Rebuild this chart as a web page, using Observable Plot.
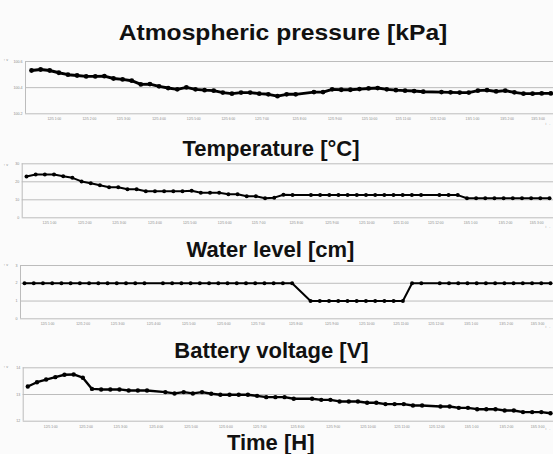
<!DOCTYPE html>
<html>
<head>
<meta charset="utf-8">
<script src="https://cdn.jsdelivr.net/npm/d3@7"></script>
<script src="https://cdn.jsdelivr.net/npm/@observablehq/plot@0.6"></script>
<style>
  html, body { margin: 0; padding: 0; background: #fbfbfb; }
  #wrap { position: relative; width: 553px; height: 454px; overflow: hidden; background: #fbfbfb; }
  .title { position: absolute; font: bold 22px "Liberation Sans", Arial, sans-serif; line-height: 22px; color: #111; white-space: nowrap; }
  .panel { position: absolute; left: 0; }
</style>
</head>
<body>
<div id="wrap"></div>
<script>
// sample index (one reading per time step), 58 steps
const sampleIndex = d3.range(58);

// x tick positions (in sample index units) and their labels
const timeTickPos = [2.5, 6.35, 10.1, 14.0, 17.8, 21.6, 25.3, 29.4, 33.3, 37.1, 40.8, 44.6, 48.4, 52.2, 55.6];
const timeTickLabels = ["12/5 1:00","12/5 2:00","12/5 3:00","12/5 4:00","12/5 5:00","12/5 6:00","12/5 7:00","12/5 8:00","12/5 9:00","12/5 10:00","12/5 11:00","12/5 12:00","13/5 1:00","13/5 2:00","13/5 3:00"];

// Atmospheric pressure [kPa]
const pressure = [100.531,100.539,100.531,100.514,100.499,100.493,100.486,100.486,100.488,100.470,
  100.463,100.453,100.425,100.427,100.410,100.397,100.387,100.402,100.387,100.381,
  100.377,100.362,100.354,100.362,100.362,100.354,100.349,100.335,100.349,100.349,
  null,100.366,100.366,100.387,100.384,100.384,100.389,100.394,100.397,100.387,
  100.381,100.377,100.374,100.369,null,100.366,100.364,100.362,100.362,100.377,
  100.381,100.371,100.377,100.364,100.354,100.354,100.356,100.356];
const pressureTicks = [100.2, 100.4, 100.6];

// Temperature [°C]
const temperature = [22.9,24.0,24.0,24.0,23.1,22.2,20.2,19.2,18.1,17.0,
  17.0,15.9,15.9,14.8,14.8,14.8,14.8,14.8,15.0,13.9,
  13.9,13.9,13.1,13.1,12.0,12.0,10.9,11.2,12.8,12.6,
  null,12.6,12.6,12.6,12.6,12.6,12.6,12.6,12.6,12.6,
  12.6,12.6,12.6,12.6,null,12.6,12.6,12.6,10.9,10.9,
  10.9,10.9,10.9,10.9,10.9,10.9,10.9,10.8];
const temperatureTicks = [0, 10, 20, 30];

// Water level [cm]
const waterLevel = [2,2,2,2,2,2,2,2,2,2,
  2,2,2,2,null,2,2,2,2,2,
  2,2,2,2,2,2,2,2,2,2,
  null,1,1,1,1,1,1,1,1,1,
  1,1,2,2,null,2,2,2,2,2,
  2,2,2,2,2,2,2,2];
const waterTicks = [0, 1, 2, 3];

// Battery voltage [V]
const battery = [13.30,13.46,13.56,13.65,13.74,13.75,13.63,13.21,13.19,13.19,
  13.19,13.15,13.15,13.15,null,13.09,13.04,13.09,13.04,13.09,
  13.03,12.99,12.99,12.99,12.99,12.95,12.90,12.90,12.90,12.84,
  null,12.84,12.80,12.80,12.74,12.74,12.74,12.69,12.69,12.64,
  12.64,12.64,12.59,12.59,null,12.55,12.55,12.50,12.50,12.45,
  12.45,12.45,12.40,12.40,12.34,12.34,12.34,12.30];
const batteryTicks = [12, 13, 14];

const wrap = document.getElementById("wrap");
const gridColor = "#bcbcbc";
const labelColor = "#8a8a8a";
const tickLabelMap = new Map(timeTickPos.map((p, i) => [p, timeTickLabels[i]]));

function addTitle(text, centerX, top, scaleX) {
  const d = document.createElement("div");
  d.className = "title";
  d.textContent = text;
  d.style.left = centerX + "px";
  d.style.top = top + "px";
  d.style.transform = `translateX(-50%)` + (scaleX ? ` scaleX(${scaleX})` : "");
  wrap.appendChild(d);
}

function addPanel(o) {
  const data = sampleIndex.map(i => ({i, v: o.values[i]})).filter(d => d.v != null);
  const svg = Plot.plot({
    width: 553,
    height: o.height,
    marginTop: o.mt,
    marginBottom: o.mb,
    marginLeft: o.ml,
    marginRight: 0,
    style: {background: "transparent", fontFamily: "'Liberation Sans', Arial, sans-serif", overflow: "visible"},
    x: {domain: o.xDomain, axis: null},
    y: {domain: o.yDomain, axis: null},
    marks: [
      Plot.gridY(o.yTicks, {stroke: gridColor, strokeOpacity: 1, strokeWidth: 1}),
      Plot.ruleX([o.xDomain[0]], {stroke: gridColor, strokeWidth: 1}),
      Plot.axisY(o.yTicks, {tickSize: 0, tickPadding: 3, fontSize: 3.6, fill: labelColor, tickFormat: o.yFmt}),
      Plot.axisX(timeTickPos, {tickSize: 0, tickPadding: 4, fontSize: 3.3, fill: labelColor, tickFormat: d => tickLabelMap.get(d)}),
      Plot.line(data, {x: "i", y: "v", stroke: "#000", strokeWidth: o.sw, curve: "linear"}),
      Plot.dot(data, {x: "i", y: "v", r: o.r, fill: "#000", stroke: "none"})
    ]
  });
  svg.classList.add("panel");
  svg.style.top = o.top + "px";
  svg.style.position = "absolute";
  wrap.appendChild(svg);
}

addTitle("Atmospheric pressure [kPa]", 282.5, 22.4, 1.12);
addPanel({values: pressure, top: 55, height: 72, mt: 6, mb: 13.7, ml: 25,
  xDomain: [-0.659, 57.296], yDomain: [100.2, 100.6], yTicks: pressureTicks,
  yFmt: d => d.toFixed(1), sw: 2.9, r: 2.4});

addTitle("Temperature [°C]", 271, 138.4);
addPanel({values: temperature, top: 160, height: 70, mt: 3.3, mb: 12.7, ml: 21.7,
  xDomain: [-0.469, 57.436], yDomain: [0, 30], yTicks: temperatureTicks,
  yFmt: d => String(d), sw: 2, r: 2});

addTitle("Water level [cm]", 270.5, 239.4);
addPanel({values: waterLevel, top: 260, height: 70, mt: 5, mb: 11.7, ml: 20,
  xDomain: [-0.433, 57.325], yDomain: [0, 3], yTicks: waterTicks,
  yFmt: d => String(d), sw: 2, r: 2});

addTitle("Battery voltage [V]", 271.5, 340.4);
addPanel({values: battery, top: 362, height: 70, mt: 5.3, mb: 11.3, ml: 22.7,
  xDomain: [-0.502, 57.327], yDomain: [12, 14], yTicks: batteryTicks,
  yFmt: d => String(d), sw: 2.4, r: 2.2});

addTitle("Time [H]", 270.7, 432.4);
</script>
</body>
</html>
